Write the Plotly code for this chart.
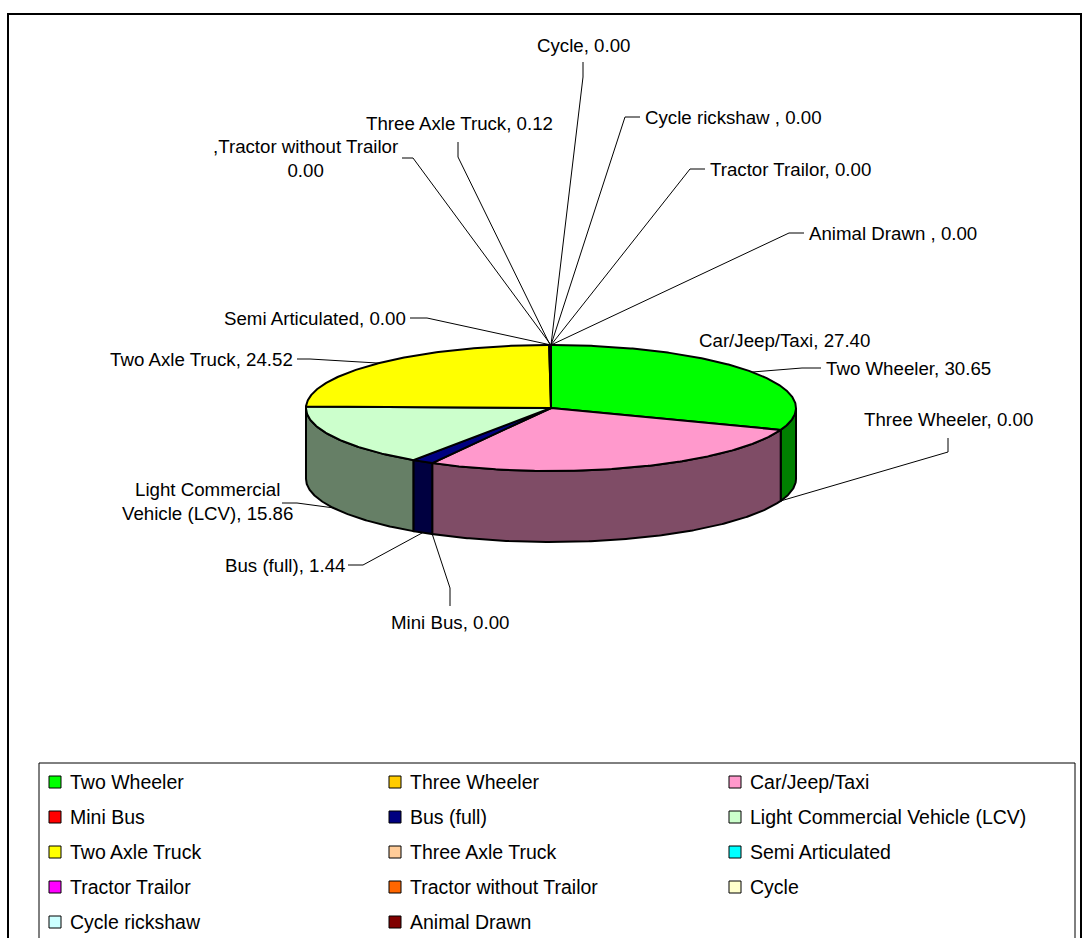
import numpy as np
import plotly.graph_objects as go

# ---------------- data ----------------
categories = ["Two Wheeler", "Three Wheeler", "Car/Jeep/Taxi", "Mini Bus", "Bus (full)",
              "Light Commercial Vehicle (LCV)", "Two Axle Truck", "Three Axle Truck",
              "Semi Articulated", "Tractor Trailor", "Tractor without Trailor", "Cycle",
              "Cycle rickshaw", "Animal Drawn"]
values = [30.65, 0.00, 27.40, 0.00, 1.44, 15.86, 24.52, 0.12, 0.00, 0.00, 0.00, 0.00, 0.00, 0.00]
colors = ["#00FF00", "#FFCC00", "#FF99CC", "#FF0000", "#000080", "#CCFFCC", "#FFFF00",
          "#FFCC99", "#00FFFF", "#FF00FF", "#FF6600", "#FFFFCC", "#CCFFFF", "#800000"]

# ---------------- layout constants (pixel space) ----------------
W, H = 1082, 938
CX, CY, RX, RY, DEPTH = 551, 408, 245, 63, 71
FONT = "Liberation Sans, Arial, sans-serif"
LBL_SIZE = 18.7
LEG_SIZE = 19.5


def half(c):
    c = c.lstrip("#")
    r, g, b = int(c[0:2], 16), int(c[2:4], 16), int(c[4:6], 16)
    return "#%02X%02X%02X" % (r // 2, g // 2, b // 2)


def pt(theta, dz=0.0):
    t = np.radians(theta)
    return CX + RX * np.sin(t), CY - RY * np.cos(t) + dz


total = float(sum(values))
starts, ends = [], []
acc = 0.0
for v in values:
    starts.append(360.0 * acc / total)
    acc += v
    ends.append(360.0 * acc / total)

fig = go.Figure()

# side faces (front half only)
for i, v in enumerate(values):
    if v <= 0:
        continue
    a, b = max(starts[i], 90.0), min(ends[i], 270.0)
    if a >= b:
        continue
    th = np.linspace(a, b, max(3, int((b - a) * 2) + 2))
    xt, yt = pt(th)
    xb, yb = pt(th[::-1], DEPTH)
    xs = np.concatenate([xt, xb, xt[:1]])
    ys = np.concatenate([yt, yb, yt[:1]])
    fig.add_trace(go.Scatter(x=xs, y=ys, mode="lines", fill="toself",
                             fillcolor=half(colors[i]),
                             line=dict(color="black", width=2),
                             hoverinfo="skip", showlegend=False))

# top faces
for i, v in enumerate(values):
    if v <= 0:
        continue
    a, b = starts[i], ends[i]
    th = np.linspace(a, b, max(3, int((b - a) * 2) + 2))
    xa, ya = pt(th)
    xs = np.concatenate([[CX], xa, [CX]])
    ys = np.concatenate([[CY], ya, [CY]])
    fig.add_trace(go.Scatter(x=xs, y=ys, mode="lines", fill="toself",
                             fillcolor=colors[i],
                             line=dict(color="black", width=2),
                             hoverinfo="skip", showlegend=False))

# ---------------- data labels ----------------
label_text = []
for c, v in zip(categories, values):
    label_text.append(f"{c}, {v:.2f}")
label_text[5] = f"Light Commercial<br>Vehicle (LCV), {values[5]:.2f}"
label_text[10] = f",{categories[10]}<br>{values[10]:.2f}"
label_text[12] = f"{categories[12]} , {values[12]:.2f}"
label_text[13] = f"{categories[13]} , {values[13]:.2f}"

# (text x, text y, xanchor, leader path points after the anchor)
label_layout = [
    (824, 368, "left",   [(802, 368), (821, 368)]),
    (948, 419, "center", [(948, 452), (948, 438)]),
    (697, 340, "left",   None),
    (450, 622, "center", [(450, 588), (450, 606)]),
    (347, 565, "right",  [(363, 565), (348, 565)]),
    (207, 501, "center", [(297, 503), (282, 503)]),
    (295, 359, "right",  [(310, 359), (297, 359)]),
    (459, 123, "center", [(458, 157), (458, 142)]),
    (408, 318, "right",  [(427, 318), (410, 318)]),
    (708, 169, "left",   [(690, 169), (705, 169)]),
    (305, 158, "center", [(413, 158), (402, 158)]),
    (583, 45,  "center", [(583, 77), (583, 62)]),
    (643, 117, "left",   [(625, 117), (640, 117)]),
    (807, 233, "left",   [(789, 233), (804, 233)]),
]

annotations = []
for i, (tx, ty, xa, path) in enumerate(label_layout):
    annotations.append(dict(x=tx, y=ty, xref="x", yref="y", text=label_text[i],
                            showarrow=False, xanchor=xa, yanchor="middle", align="center",
                            font=dict(family=FONT, size=LBL_SIZE, color="black")))
    if path:
        mid = (starts[i] + ends[i]) / 2.0
        if 90.0 < mid < 270.0:
            ax, ay = pt(mid, DEPTH)
        else:
            ax, ay = pt(mid)
        xs = [ax] + [p[0] for p in path]
        ys = [ay] + [p[1] for p in path]
        fig.add_trace(go.Scatter(x=xs, y=ys, mode="lines",
                                 line=dict(color="black", width=1),
                                 hoverinfo="skip", showlegend=False))

# ---------------- legend (3 columns) ----------------
LEG_X0, LEG_DX, LEG_Y0, LEG_DY = 55, 340, 782, 35
lx = [LEG_X0 + LEG_DX * (i % 3) for i in range(len(categories))]
ly = [LEG_Y0 + LEG_DY * (i // 3) for i in range(len(categories))]
fig.add_trace(go.Scatter(x=lx, y=ly, mode="markers",
                         marker=dict(symbol="square", size=12, color=colors,
                                     line=dict(color="black", width=1)),
                         hoverinfo="skip", showlegend=False))
for i, c in enumerate(categories):
    annotations.append(dict(x=lx[i] + 13, y=ly[i], xref="x", yref="y", text=c,
                            showarrow=False, xanchor="left", yanchor="middle",
                            font=dict(family=FONT, size=LEG_SIZE, color="black")))

shapes = [
    dict(type="rect", xref="x", yref="y", x0=8, y0=14, x1=1081, y1=1000,
         line=dict(color="black", width=2), fillcolor="rgba(0,0,0,0)", layer="below"),
    dict(type="rect", xref="x", yref="y", x0=39, y0=763, x1=1075, y1=1000,
         line=dict(color="black", width=1), fillcolor="rgba(0,0,0,0)", layer="below"),
]

fig.update_layout(
    width=W, height=H,
    margin=dict(l=0, r=0, t=0, b=0),
    paper_bgcolor="white", plot_bgcolor="white",
    xaxis=dict(range=[0, W], visible=False, fixedrange=True),
    yaxis=dict(range=[H, 0], visible=False, fixedrange=True),
    annotations=annotations,
    shapes=shapes,
    showlegend=False,
)

fig.write_html("out.html",
               config={"displayModeBar": False},
               post_script="document.body.style.margin='0';document.body.style.overflow='hidden';")
